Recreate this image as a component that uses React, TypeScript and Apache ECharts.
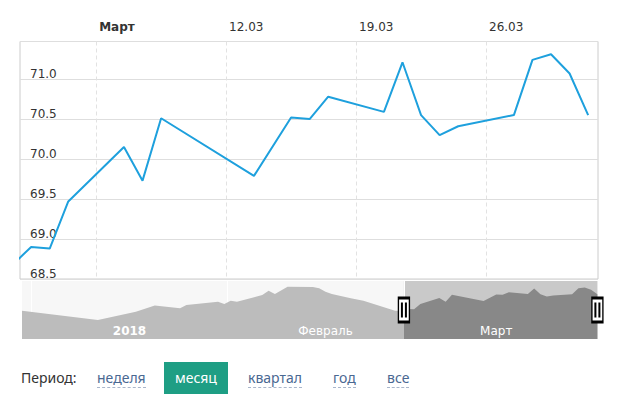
import * as echarts from 'echarts';
import { useEffect, useRef } from 'react';

// daily rate, Dec 30 2017 .. Mar 31 2018
const rateDates = [
  '2017-12-30', '2018-01-11', '2018-01-17', '2018-01-20', '2018-01-24', '2018-01-25', '2018-01-30',
  '2018-01-31', '2018-02-01', '2018-02-02', '2018-02-06', '2018-02-07', '2018-02-08', '2018-02-10',
  '2018-02-14', '2018-02-15', '2018-02-16', '2018-02-17', '2018-02-20', '2018-02-22', '2018-02-27',
  '2018-02-28', '2018-03-01', '2018-03-02', '2018-03-03', '2018-03-06', '2018-03-07', '2018-03-08',
  '2018-03-13', '2018-03-15', '2018-03-16', '2018-03-17', '2018-03-20', '2018-03-21', '2018-03-22',
  '2018-03-23', '2018-03-24', '2018-03-27', '2018-03-28', '2018-03-29', '2018-03-30', '2018-03-31',
];
const rateValues = [
  68.71, 67.66, 68.6, 69.29, 68.98, 69.35, 69.72,
  69.46, 69.83, 69.72, 70.47, 70.96, 70.59, 71.41,
  71.37, 71.23, 70.84, 70.59, 70.1, 69.83, 68.71,
  68.68, 68.9, 68.88, 69.47, 70.15, 69.73, 70.51,
  69.79, 70.52, 70.5, 70.78, 70.59, 71.21, 70.55,
  70.3, 70.41, 70.55, 71.24, 71.31, 71.07, 70.55,
];

const weekTickDates = ['2018-03-05', '2018-03-12', '2018-03-19', '2018-03-26'];
const weekTickLabels = ['Март', '12.03', '19.03', '26.03'];
const monthStartDates = ['2018-01-01', '2018-02-01', '2018-03-01'];
const monthLabelDates = ['2018-01-16', '2018-02-16', '2018-03-15'];
const monthLabels = ['2018', 'Февраль', 'Март'];
const periods = ['неделя', 'месяц', 'квартал', 'год', 'все'];
const activePeriod = 'месяц';

// visible window of the main chart, in days (Mar 1 00:00 = 1)
const viewStart = 0.9;
const viewEnd = 32.03;

const dayOf = (s: string) =>
  (Date.UTC(+s.slice(0, 4), +s.slice(5, 7) - 1, +s.slice(8, 10)) - Date.UTC(2018, 1, 28)) / 86400000;

const FONT = 'DejaVu Sans';

export default function App() {
  const ref = useRef<HTMLDivElement>(null);

  useEffect(() => {
    document.body.style.margin = '0';
    const chart = echarts.init(ref.current!, undefined, { renderer: 'svg' });

    const points = rateDates.map((d, i) => [dayOf(d) + 0.5, rateValues[i]]);
    const navFirst = points[0][0];
    const navLast = points[points.length - 1][0];
    const navMin = 65.53;
    const navMax = 72.05;
    const navMid = (navMin + navMax) / 2;
    const weekTicks = weekTickDates.map(dayOf);
    const monthStarts = monthStartDates.map(dayOf);
    const monthMids = monthLabelDates.map((d) => dayOf(d) + 0.5);
    const handles = [viewStart, Math.min(viewEnd, navLast)];

    chart.setOption({
      animation: false,
      textStyle: { fontFamily: FONT },
      grid: [
        { left: 20, right: 22, top: 41.5, height: 237.5, show: true, borderColor: '#cccccc', borderWidth: 1 },
        { left: 22, right: 22.6, top: 281, height: 58, show: true, borderWidth: 0, backgroundColor: '#f7f7f7' },
      ],
      xAxis: [
        {
          type: 'value',
          gridIndex: 0,
          position: 'top',
          min: viewStart,
          max: viewEnd,
          axisLine: { show: false },
          axisTick: { show: false, customValues: weekTicks },
          axisLabel: {
            customValues: weekTicks,
            align: 'left',
            padding: [0, 0, 0, 3],
            margin: 9,
            color: '#333',
            fontSize: 12,
            fontFamily: FONT,
            formatter: (v: number) => {
              const i = weekTicks.indexOf(v);
              const t = weekTickLabels[i] ?? '';
              return i === 0 ? `{b|${t}}` : t;
            },
            rich: { b: { fontWeight: 'bold', fontSize: 12, fontFamily: FONT, color: '#333' } },
          },
          splitLine: { show: true, lineStyle: { color: '#e2e2e2', type: [4, 3] } },
        },
        {
          type: 'value',
          gridIndex: 1,
          position: 'bottom',
          min: navFirst,
          max: navLast,
          z: 3,
          axisLine: { show: false },
          axisTick: { show: false, customValues: monthStarts },
          axisLabel: {
            customValues: monthMids,
            inside: true,
            margin: 2,
            color: '#fff',
            fontSize: 12,
            fontFamily: FONT,
            formatter: (v: number) => {
              const i = monthMids.indexOf(v);
              const t = monthLabels[i] ?? '';
              return i === 0 ? `{b|${t}}` : t;
            },
            rich: { b: { fontWeight: 'bold', fontSize: 12, fontFamily: FONT, color: '#fff' } },
          },
          splitLine: { show: true, lineStyle: { color: '#ffffff', width: 1 } },
        },
      ],
      yAxis: [
        {
          type: 'value',
          gridIndex: 0,
          min: 68.5,
          max: 71.47,
          interval: 0.5,
          axisLine: { show: false },
          axisTick: { show: false },
          axisLabel: {
            inside: true,
            margin: 10,
            verticalAlign: 'bottom',
            lineHeight: 11,
            showMaxLabel: false,
            color: '#333',
            fontSize: 12,
            fontFamily: FONT,
            formatter: (v: number) => v.toFixed(1),
          },
          splitLine: { lineStyle: { color: '#dedede' } },
        },
        { type: 'value', gridIndex: 1, min: navMin, max: navMax, show: false, splitLine: { show: false } },
      ],
      visualMap: [
        {
          type: 'piecewise',
          show: false,
          seriesIndex: 1,
          dimension: 0,
          pieces: [
            { gte: navFirst - 10, lt: viewStart, color: '#bcbcbc' },
            { gte: viewStart, lte: navLast + 10, color: '#888888' },
          ],
        },
      ],
      series: [
        {
          type: 'line',
          xAxisIndex: 0,
          yAxisIndex: 0,
          data: points,
          symbol: 'none',
          color: '#1ea0dd',
          lineStyle: { color: '#1ea0dd', width: 2 },
        },
        {
          type: 'line',
          xAxisIndex: 1,
          yAxisIndex: 1,
          data: points,
          symbol: 'none',
          lineStyle: { opacity: 0 },
          areaStyle: { opacity: 1 },
          markArea: {
            silent: true,
            itemStyle: { color: '#c9c9c9' },
            data: [[{ xAxis: viewStart }, { xAxis: Math.min(viewEnd, navLast) }]],
          },
          markPoint: {
            silent: true,
            label: { show: false },
            data: handles.flatMap((x) => [
              {
                coord: [x, navMid],
                symbol: 'rect',
                symbolSize: [11, 24],
                itemStyle: { color: '#fff', borderColor: '#000', borderWidth: 2 },
              },
              {
                coord: [x, navMid],
                symbol: 'path://M0 0h2v14H0zM4 0h2v14H4z',
                symbolSize: [6, 15],
                itemStyle: { color: '#000', borderWidth: 0 },
              },
            ]),
          },
        },
      ],
    });

    return () => chart.dispose();
  }, []);

  const linkX = [97, 164, 248, 333, 387];

  return (
    <div style={{ position: 'relative', width: 620, height: 415, fontFamily: 'Noto Sans', fontSize: 14 }}>
      <div ref={ref} style={{ width: 620, height: 345 }} />
      <span style={{ position: 'absolute', left: 21, top: 368, color: '#333', lineHeight: '20px' }}>Период:</span>
      {periods.map((p, i) =>
        p === activePeriod ? (
          <span
            key={p}
            style={{
              position: 'absolute',
              left: linkX[i],
              top: 362,
              width: 64,
              height: 32,
              lineHeight: '32px',
              textAlign: 'center',
              background: '#1e9e84',
              color: '#fff',
            }}
          >
            {p}
          </span>
        ) : (
          <span
            key={p}
            style={{
              position: 'absolute',
              left: linkX[i],
              top: 368,
              lineHeight: '19px',
              color: '#4a6892',
              borderBottom: '1px dashed #a9b6cb',
            }}
          >
            {p}
          </span>
        ),
      )}
    </div>
  );
}
